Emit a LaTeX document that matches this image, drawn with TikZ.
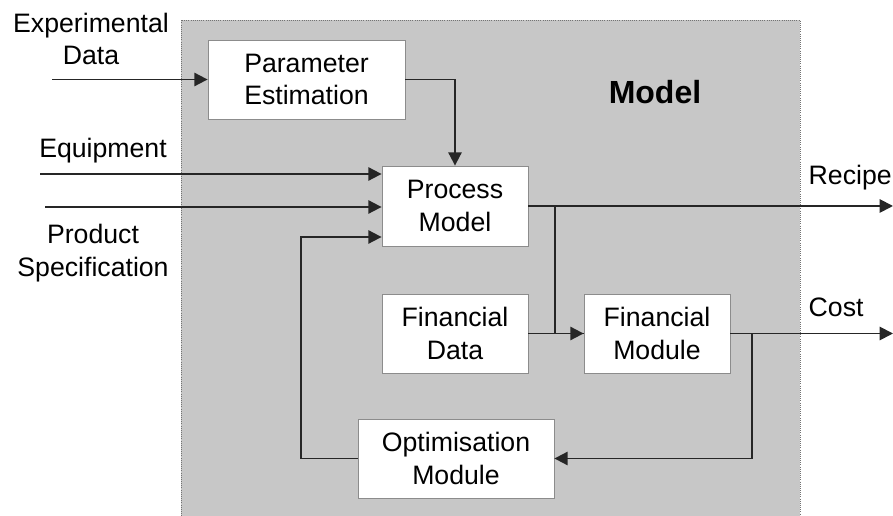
\documentclass[tikz,border=0pt]{standalone}
\usepackage{fontspec}
\setmainfont{Liberation Sans}
\usetikzlibrary{arrows.meta}

\begin{document}
\begin{tikzpicture}[x=0.75pt,y=-0.75pt,
    font=\fontsize{20}{24.5}\selectfont,
    block/.style={draw=black!45, fill=white, line width=0.6pt, align=center, inner sep=0pt},
    flow/.style={draw=black!85, line width=1.4pt, -{Triangle[length=10pt,width=10pt]}},
    link/.style={draw=black!85, line width=1.4pt}]
    \useasboundingbox (0,0) rectangle (893,516);

    % model area
    \fill[black!22] (181,20) rectangle (800,516);
    \draw[black!55, densely dotted, line width=0.6pt] (181,516) -- (181,20) -- (800,20) -- (800,516);
    \node[font=\fontsize{24}{28}\selectfont\bfseries] (model) at (655,92) {Model};

    \node[block, minimum width=147.75pt, minimum height=59.25pt] (param) at (306.5,79.5) {Parameter\\Estimation};
    \node[block, minimum width=109.5pt, minimum height=60pt] (process) at (455,206) {Process\\Model};
    \node[block, minimum width=109.5pt, minimum height=59.25pt] (findata) at (455,333.5) {Financial\\Data};
    \node[block, minimum width=109.5pt, minimum height=59.25pt] (finmod) at (657,333.5) {Financial\\Module};
    \node[block, minimum width=147pt, minimum height=59.25pt] (optim) at (456,458.5) {Optimisation\\Module};

    % inputs
    \node[align=center] (explabel) at (91,39) {Experimental\\Data};
    \node (eqlabel) at (103,151) {Equipment};
    \node[align=center] (prodlabel) at (93,253) {Product\\Specification};
    \coordinate (expin) at (52,79.5);
    \coordinate (eqin) at (40,174);
    \coordinate (prodin) at (45,207);
    \draw[flow] (expin) -- (param.west);
    \draw[flow] (eqin) -- (eqin -| process.west);
    \draw[flow] (prodin) -- (prodin -| process.west);
    \draw[flow] (param.east) -| (process.north);

    % outputs
    \coordinate (recout) at (893,206);
    \coordinate (costout) at (893,333.5);
    \node[anchor=west] (reclabel) at (804,178) {Recipe};
    \node[anchor=west] (costlabel) at (804,307) {Cost};
    \draw[flow] (process.east) -- (recout);
    \draw[flow] (finmod.east) -- (costout);

    % internal links
    \coordinate (split) at (555,206);
    \coordinate (ret) at (752,333.5);
    \coordinate (fb) at (301,237);
    \draw[link] (findata.east) -- (finmod.west);
    \draw[flow] (split) |- (finmod.west);
    \draw[flow] (ret) |- (optim.east);
    \draw[flow] (optim.west) -| (fb) -- (fb -| process.west);
\end{tikzpicture}
\end{document}
